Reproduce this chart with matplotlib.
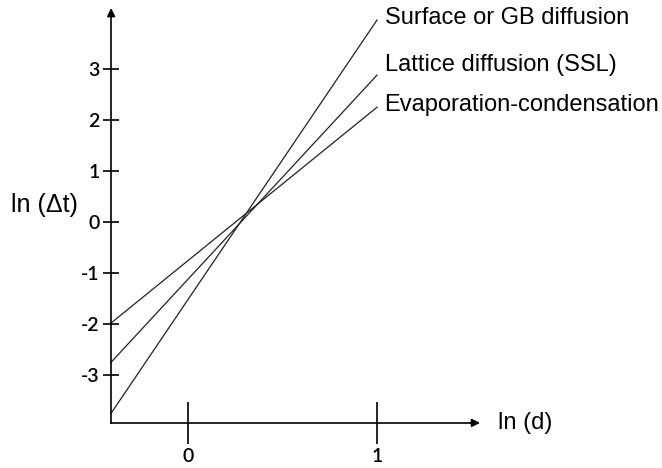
import numpy as np
import matplotlib
matplotlib.use('Agg')
import matplotlib.pyplot as plt

# endpoints of the three schematic lines (ln d, ln dt)
x_ends = [-0.407, 1.0]
surface = [-3.75, 3.96]
lattice = [-2.75, 2.88]
evap = [-1.98, 2.25]
names = ['Surface or GB diffusion', 'Lattice diffusion (SSL)', 'Evaporation-condensation']
label_y = [4.0, 3.08, 2.3]

xticks = [0, 1]
yticks = [-3, -2, -1, 0, 1, 2, 3]

x0, y0 = -0.407, -3.94      # where the axes cross
x_top, y_top = 1.53, 4.1    # arrow tips

fig = plt.figure(figsize=(6.62, 4.68), dpi=100)
ax = fig.add_axes([0, 0, 1, 1])
ax.set_xlim(-0.995, 2.508)
ax.set_ylim(-4.824, 4.353)
ax.patch.set_alpha(0)

for ys in (surface, lattice, evap):
    ax.plot(x_ends, ys, color='#222222', lw=0.9)

for s in ('top', 'right'):
    ax.spines[s].set_visible(False)
ax.spines['left'].set_position(('data', x0))
ax.spines['bottom'].set_position(('data', y0))
ax.spines['left'].set_bounds(y0, y_top)
ax.spines['bottom'].set_bounds(x0, x_top)
for s in ('left', 'bottom'):
    ax.spines[s].set_linewidth(1.2)

ax.annotate('', xy=(x0, y_top + 0.15), xytext=(x0, y_top - 0.1),
            arrowprops=dict(arrowstyle='-|>', color='black', lw=1.2, mutation_scale=12))
ax.annotate('', xy=(x_top + 0.03, y0), xytext=(x_top - 0.05, y0),
            arrowprops=dict(arrowstyle='-|>', color='black', lw=1.2, mutation_scale=12))

ax.set_xticks(xticks)
ax.set_yticks(yticks)
ax.set_xticklabels([str(t) for t in xticks], family='Lato', fontsize=14, weight='semibold')
ax.set_yticklabels([str(t) for t in yticks], family='Lato', fontsize=14, weight='semibold',
                   va='center_baseline')
ax.tick_params(axis='x', direction='inout', length=30, width=1.2, pad=3)
ax.tick_params(axis='y', direction='inout', length=11, width=1.2, pad=3)

for name, ly in zip(names, label_y):
    ax.text(1.04, ly, name, fontsize=17, family='Liberation Sans', va='center', ha='left')

ax.text(1.64, y0, 'ln (d)', fontsize=17, family='Liberation Sans', va='center', ha='left')
ax.text(-0.935, 0.33, 'ln (\u0394t)', fontsize=18, family='Liberation Sans', va='center', ha='left')

fig.savefig('out.png', dpi=100)
